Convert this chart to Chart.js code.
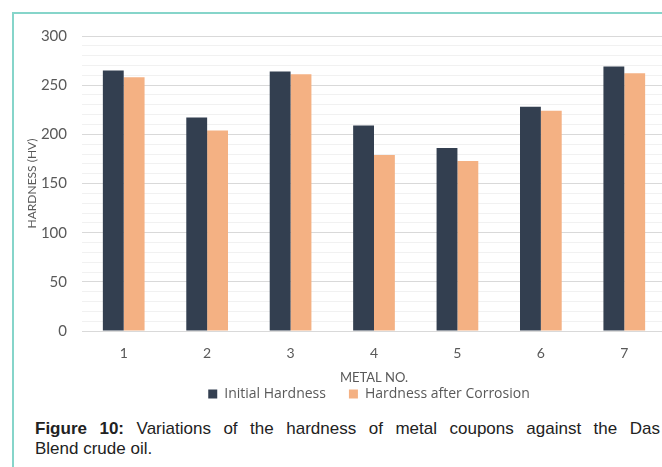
<!DOCTYPE html>
<html>
<head>
<meta charset="utf-8">
<script src="https://cdn.jsdelivr.net/npm/chart.js@4.4.1/dist/chart.umd.min.js"></script>
<style>
  html, body { margin: 0; padding: 0; background: #fff; width: 662px; height: 467px; overflow: hidden; }
  .frame { position: absolute; left: 12px; top: 12px; width: 700px; height: 500px;
           border-left: 2px solid #86d5ca; border-top: 2px solid #86d5ca; }
  #hardnessChart { position: absolute; left: 12px; top: 12px; }
  .caption { position: absolute; left: 35px; top: 419px; width: 625px; margin: 0;
             font-family: "Liberation Sans", Arial, sans-serif;
             font-size: 17px; line-height: 20px; color: #222; }
  .caption .l1 { text-align: justify; text-align-last: justify; }
</style>
</head>
<body>
<div class="frame"></div>
<canvas id="hardnessChart" width="714" height="399"></canvas>
<div class="caption">
  <div class="l1"><b>Figure 10:</b> Variations of the hardness of metal coupons against the Das</div>
  <div>Blend crude oil.</div>
</div>
<script>
const metals = ['1', '2', '3', '4', '5', '6', '7'];
const initialHardness = [265, 217, 264, 209, 186, 228, 269];
const afterCorrosion = [258, 204, 261, 179, 173, 224, 262];

const ctx = document.getElementById('hardnessChart').getContext('2d');
const axisFont = { family: 'Lato, "Open Sans", sans-serif' };

new Chart(ctx, {
  type: 'bar',
  data: {
    labels: metals,
    datasets: [{
      label: 'Initial Hardness',
      data: initialHardness,
      backgroundColor: '#333f50',
      categoryPercentage: 0.5,
      barPercentage: 1.0
    }, {
      label: 'Hardness after Corrosion',
      data: afterCorrosion,
      backgroundColor: '#f4b183',
      categoryPercentage: 0.5,
      barPercentage: 1.0
    }]
  },
  options: {
    responsive: false,
    animation: false,
    devicePixelRatio: 1,
    layout: { padding: { top: 14, left: 0, right: 0, bottom: 0 } },
    plugins: {
      tooltip: { enabled: false },
      legend: {
        position: 'bottom',
        labels: {
          boxWidth: 9, boxHeight: 9, padding: 23, color: '#595959',
          font: { family: '"Open Sans", sans-serif', size: 14 }
        }
      }
    },
    scales: {
      x: {
        afterFit: s => { s.height = 33; },
        grid: { display: false, drawTicks: false },
        border: { display: true, color: '#d9d9d9', width: 1 },
        ticks: { color: '#595959', padding: 14, font: { ...axisFont, size: 14 } },
        title: { display: true, text: 'METAL NO.', color: '#595959', padding: { top: 0, bottom: -22 },
                 font: { ...axisFont, size: 13 } }
      },
      y: {
        min: 0, max: 300,
        afterFit: s => { s.width = 70; },
        grid: {
          drawTicks: false,
          color: c => (c.tick && c.tick.value % 50 === 0) ? '#d9d9d9' : '#f1f1f1'
        },
        border: { display: false },
        ticks: {
          stepSize: 10, autoSkip: false, padding: 15, color: '#595959',
          font: { ...axisFont, size: 15 },
          callback: v => (v % 50 === 0 ? v : '')
        },
        title: { display: true, text: 'HARDNESS (HV)', color: '#595959', padding: { top: 13, bottom: 0 },
                 font: { ...axisFont, size: 12 } }
      },
      y2: {
        position: 'right',
        afterFit: s => { s.width = 60; },
        grid: { display: false },
        ticks: { display: false },
        border: { display: false }
      }
    }
  }
});
</script>
</body>
</html>
